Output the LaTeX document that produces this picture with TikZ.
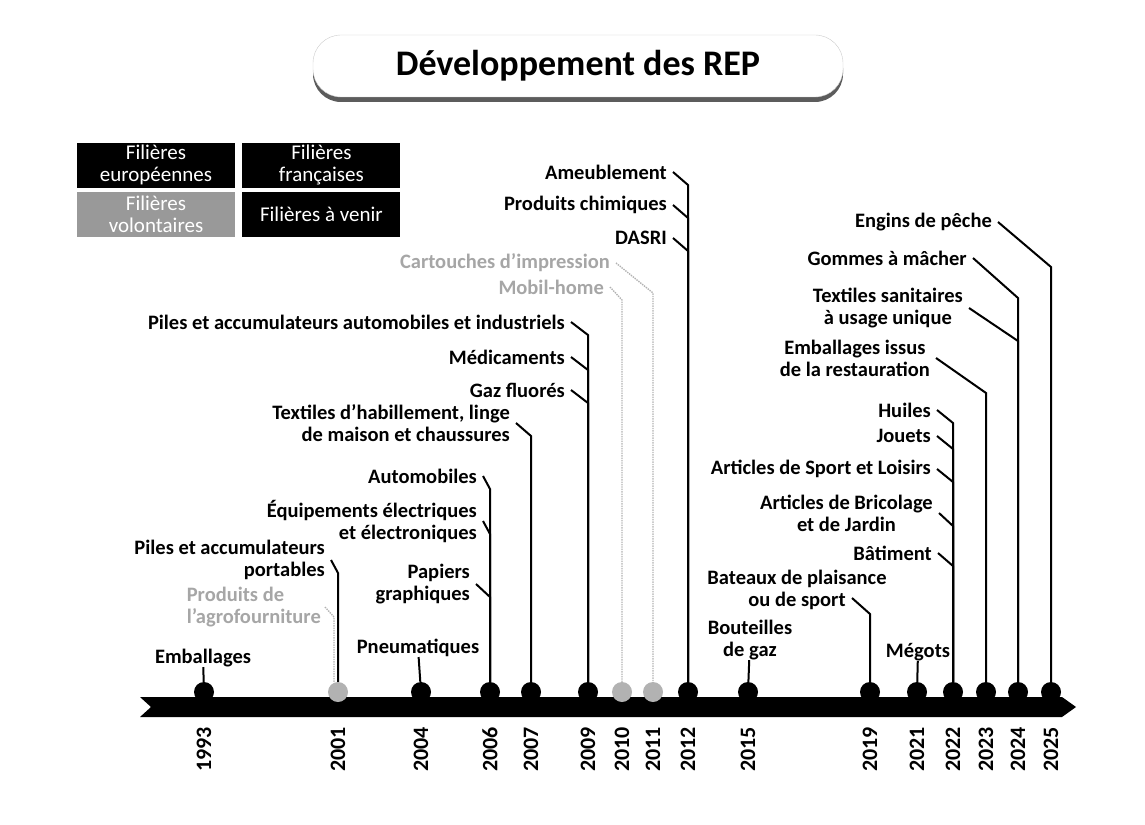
\documentclass[tikz,border=0pt]{standalone}
\usepackage{fontspec}
\setmainfont{Carlito}
\usetikzlibrary{positioning,calc,shadows}
\tikzstyle{lbl} = [font={\bfseries\fontsize{20.5}{22}\selectfont}, inner sep=0pt, anchor=east, align=right]
\tikzstyle{lblc} = [lbl, align=center]
\tikzstyle{lblm} = [lbl, anchor=center, align=center]
\tikzstyle{vol} = [text=black!35]
\tikzstyle{yrlbl} = [font={\bfseries\fontsize{22}{24}\selectfont}, rotate=90, anchor=east, inner sep=0pt]
\tikzstyle{yeardot} = [circle, fill=black, minimum size=20pt, inner sep=0pt]
\tikzstyle{gyeardot} = [yeardot, fill=black!30]
\tikzstyle{link} = [draw, line width=2pt]
\tikzstyle{glink} = [draw, line width=1.4pt, black!30, densely dotted]
\tikzstyle{legbox} = [rectangle, fill=black, text=white, minimum width=158pt, minimum height=45pt,
  inner sep=0pt, align=center, font={\fontsize{21}{22.5}\selectfont}]
\tikzstyle{titlebox} = [rectangle, rounded corners=28pt, fill=white, draw=black!20,
  minimum width=530pt, minimum height=62pt, font={\bfseries\fontsize{36}{40}\selectfont},
  drop shadow={shadow xshift=0pt, shadow yshift=-5pt, fill=black!80, opacity=0.8}]
% label -> diagonal -> vertical line down to the year dot
\newcommand{\joinlbl}[3][13]{\path [link] ($(#2.east)+(6,0)$) -- ($(#2.east -| #3)+(0,#1)$) -- (#3);}
\begin{document}
\begin{tikzpicture}[x=1pt, y=-1pt]
  \useasboundingbox (0,0) rectangle (1145,824);
  \node [titlebox] (title) at (578,66) {Développement des REP};

  % legend
  \node [legbox] (eu) at (156,165) {Filières\\européennes};
  \node [legbox, right=7pt of eu] (fr) {Filières\\françaises};
  \node [legbox, fill=black!40, below=4pt of eu] (volbox) {Filières\\volontaires};
  \node [legbox, below=4pt of fr] (avenir) {Filières à venir};

  % timeline
  \path [fill=black] (140,697) -- (1062,697) -- (1076,707) -- (1062,717) -- (140,717) -- (151,707) -- cycle;
  \foreach \yy/\xx in {1993/204, 2004/421, 2006/490, 2007/531, 2009/588, 2012/688, 2015/748,
                       2019/870, 2021/917, 2022/953, 2023/986, 2024/1018, 2025/1051}
    \node [yeardot] (d\yy) at (\xx,692) {};
  \foreach \yy/\xx in {2001/338, 2010/622, 2011/653}
    \node [gyeardot] (d\yy) at (\xx,692) {};
  \foreach \yy/\xx in {1993/204, 2001/338, 2004/421, 2006/490, 2007/531, 2009/588, 2010/622,
                       2011/653, 2012/688, 2015/748, 2019/870, 2021/917, 2022/953, 2023/986,
                       2024/1018, 2025/1051}
    \node [yrlbl] (y\yy) at (\xx,727) {\yy};

  % labels
  \node [lblm] (emball) at (203,658) {Emballages};
  \node [lbl] (pilesport) at (325,560) {Piles et accumulateurs\\portables};
  \node [lbl, vol, align=left] (agro) at (321,607) {Produits de\\l'agrofourniture};
  \node [lblm] (pneus) at (418,648) {Pneumatiques};
  \node [lbl] (auto) at (477,476) {Automobiles};
  \node [lbl] (deee) at (477,521) {Équipements électriques\\et électroniques};
  \node [lbl] (papiers) at (470,584) {Papiers\\graphiques};
  \node [lbl] (textiles) at (510,423) {Textiles d'habillement, linge\\de maison et chaussures};
  \node [lbl] (pilesind) at (565,322) {Piles et accumulateurs automobiles et industriels};
  \node [lbl] (medic) at (565,357) {Médicaments};
  \node [lbl] (gaz) at (565,390) {Gaz fluorés};
  \node [lbl, vol] (cartouches) at (610,263) {Cartouches d'impression};
  \node [lbl, vol] (mobil) at (604,287) {Mobil-home};
  \node [lbl] (ameub) at (667,172) {Ameublement};
  \node [lbl] (chimie) at (667,205) {Produits chimiques};
  \node [lbl] (dasri) at (667,238) {DASRI};
  \node [lblm] (bouteilles) at (750,640) {Bouteilles\\de gaz};
  \node [lblm] (bateaux) at (797,590) {Bateaux de plaisance\\ou de sport};
  \node [lblm] (megots) at (918,652) {Mégots};
  \node [lbl] (huiles) at (931,410) {Huiles};
  \node [lbl] (jouets) at (931,436) {Jouets};
  \node [lbl] (sport) at (931,469) {Articles de Sport et Loisirs};
  \node [lblc] (brico) at (933,513) {Articles de Bricolage\\et de Jardin};
  \node [lbl] (batiment) at (932,553) {Bâtiment};
  \node [lblc] (restau) at (930,358) {Emballages issus\\de la restauration};
  \node [lblc] (sanit) at (963,308) {Textiles sanitaires\\à usage unique};
  \node [lbl] (gommes) at (967,258) {Gommes à mâcher};
  \node [lbl] (engins) at (992,222) {Engins de pêche};

  % connectors
  \path [link] (emball) -- (d1993);
  \path [link] (pneus) -- (d2004);
  \path [link] (bouteilles) -- (d2015);
  \path [link] (megots) -- (d2021);
  \joinlbl{pilesport}{d2001}
  \path [glink] ($(agro.east)+(4,0)$) -- ($(agro.east -| d2001)+(-4,10)$) -- ($(d2001.north)+(-4,0)$);
  \joinlbl{auto}{d2006}
  \joinlbl{deee}{d2006}
  \joinlbl{papiers}{d2006}
  \joinlbl{textiles}{d2007}
  \joinlbl{pilesind}{d2009}
  \joinlbl{medic}{d2009}
  \joinlbl{gaz}{d2009}
  \path [glink] ($(cartouches.east)+(6,0)$) -- ($(cartouches.east -| d2011)+(0,30)$) -- (d2011);
  \path [glink] ($(mobil.east)+(6,0)$) -- ($(mobil.east -| d2010)+(0,13)$) -- (d2010);
  \joinlbl{ameub}{d2012}
  \joinlbl{chimie}{d2012}
  \joinlbl{dasri}{d2012}
  \coordinate (bateauxend) at ($(bateaux.south)+(55,-12)$);
  \path [link] (bateauxend) -- ($(bateauxend -| d2019)+(0,16)$) -- (d2019);
  \joinlbl{huiles}{d2022}
  \joinlbl{jouets}{d2022}
  \joinlbl{sport}{d2022}
  \joinlbl{brico}{d2022}
  \joinlbl{batiment}{d2022}
  \joinlbl[35]{restau}{d2023}
  \joinlbl[33]{sanit}{d2024}
  \joinlbl[40]{gommes}{d2024}
  \joinlbl[45]{engins}{d2025}
\end{tikzpicture}
\end{document}
